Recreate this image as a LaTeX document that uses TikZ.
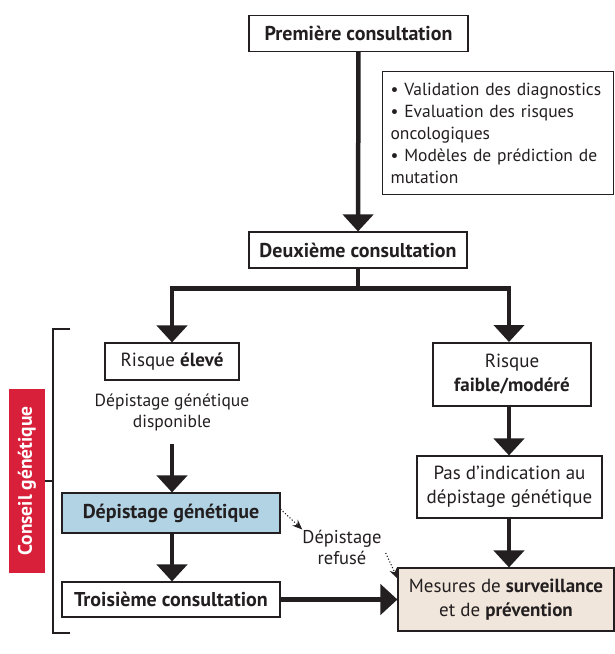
\documentclass[tikz,border=0pt]{standalone}
\usepackage{fontspec}
\setmainfont{PT Sans}
\usetikzlibrary{arrows.meta}
\definecolor{ink}{HTML}{231F20}
\definecolor{paleblue}{HTML}{B1D3E3}
\definecolor{sand}{HTML}{F1E6DB}
\definecolor{alert}{HTML}{D9203A}

\begin{document}
\begin{tikzpicture}[x=1pt,y=-1pt,line join=miter,
  box/.style={draw=ink,line width=1.1pt,fill=white,inner sep=0pt,align=center,
    text=ink,font=\fontsize{19}{24}\selectfont},
  boldbox/.style={box,font=\fontsize{20}{24}\selectfont\bfseries},
  plain/.style={inner sep=0pt,align=center,text=ink,font=\fontsize{17.5}{21}\selectfont},
  flow/.style={ink,line width=4.5pt,-{Triangle[width=30pt,length=17pt]}},
  refused/.style={ink,line width=1.1pt,dotted,-{Stealth[length=10pt,width=8pt]}}]
  \path[use as bounding box] (0,0) rectangle (615,654);

  % Main column: first and second consultation with the checklist beside it.
  \node[boldbox,minimum width=219pt,minimum height=36pt] (premiere) at (358.5,33.5) {Première consultation};
  \node[box,anchor=north west,text width=215pt,align=left,minimum height=123pt,inner xsep=8pt,
    font=\fontsize{17.5}{22}\selectfont]
    (checklist) at (382,71) {• Validation des diagnostics\\• Evaluation des risques\\oncologiques\\• Modèles de prédiction de\\mutation};
  \node[boldbox,minimum width=218pt,minimum height=36pt] (deuxieme) at (358,250) {Deuxième consultation};
  \draw[flow] (premiere) -- (deuxieme);

  % High-risk branch.
  \node[box,minimum width=134pt,minimum height=37pt] (eleve) at (172,361.5) {Risque \textbf{élevé}};
  \node[plain] (dispo) at (172,412) {Dépistage génétique\\disponible};
  \node[boldbox,fill=paleblue,minimum width=218pt,minimum height=40pt] (depistage) at (171,513) {Dépistage génétique};
  \node[boldbox,minimum width=218pt,minimum height=35pt] (troisieme) at (171,599.5) {Troisième consultation};

  % Low-risk branch.
  \node[box,minimum width=158pt,minimum height=63pt] (faible) at (512,374.5) {Risque\\\textbf{faible/modéré}};
  \node[box,minimum width=185pt,minimum height=62pt] (pas) at (509.5,487) {Pas d’indication au\\dépistage génétique};
  \node[box,fill=sand,minimum width=216pt,minimum height=63pt] (mesures) at (506,599.5)
    {Mesures de \textbf{surveillance}\\et de \textbf{prévention}};

  % Split below the second consultation.
  \draw[flow] (deuxieme.south) -- ++(0,20) -| (eleve.north);
  \draw[flow] (deuxieme.south) -- ++(0,20) -| (509,342);
  \draw[flow] ([yshift=-13pt]dispo.south) -- (dispo.south |- depistage.north);
  \draw[flow] (dispo.south |- depistage.south) -- (dispo.south |- troisieme.north);
  \draw[flow] (troisieme) -- (mesures);
  \draw[flow] (509,406) -- (pas.north -| 509,0);
  \draw[flow] (pas.south -| 509,0) -- (mesures.north -| 509,0);

  % Refused screening goes straight to the follow-up measures.
  \node[plain,font=\fontsize{18.5}{21}\selectfont] (refus) at (342,547) {Dépistage\\refusé};
  \draw[refused] ([yshift=4pt]depistage.east) -- (refus.north west);
  \draw[refused] ([xshift=4pt,yshift=-6pt]refus.east) -- ([yshift=-11pt]mesures.north west);

  % Bracket and label for the genetic counselling span.
  \node[fill=alert,text=white,rotate=90,minimum width=184pt,minimum height=36pt,inner sep=0pt,
    font=\fontsize{19.5}{22}\selectfont\bfseries] (conseil) at (27,481) {Conseil génétique};
  \draw[ink,line width=1.5pt] (70,329) -- (53,329) -- (53,633) -- (70,633);
  \draw[ink,line width=1.5pt] (conseil.south) -- (53,481);
\end{tikzpicture}
\end{document}
